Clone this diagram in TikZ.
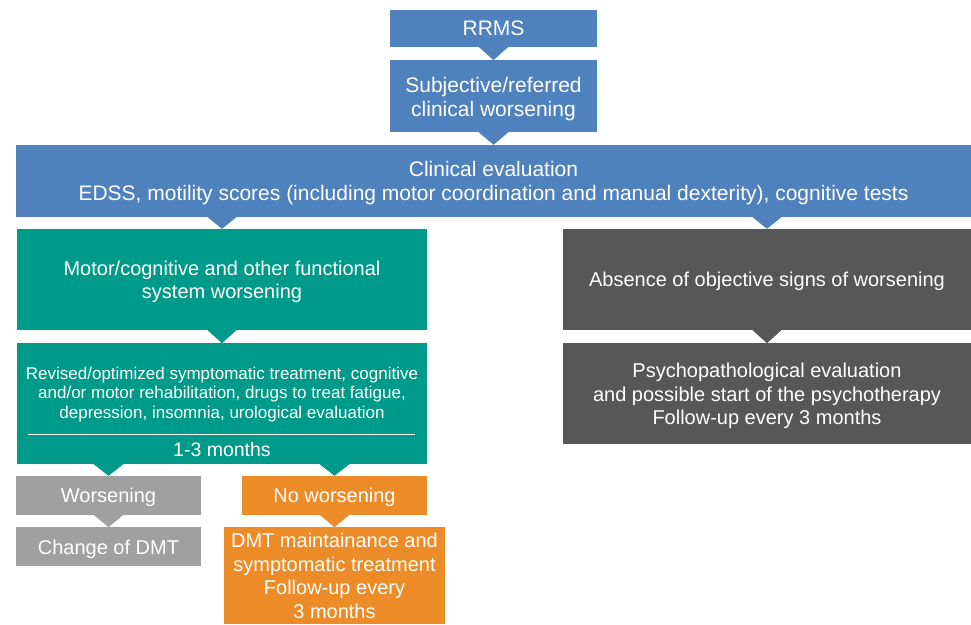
\documentclass[tikz,border=0pt]{standalone}
\usepackage{fontspec}
\setmainfont{Liberation Sans}
\usetikzlibrary{positioning,calc}
\definecolor{msblue}{RGB}{79,129,189}
\definecolor{msteal}{RGB}{0,154,138}
\definecolor{msdark}{RGB}{87,87,87}
\definecolor{msgray}{RGB}{160,160,160}
\definecolor{msorange}{RGB}{236,140,40}
\tikzset{
  box/.style={rectangle, fill=#1, text=white, align=center, inner sep=0pt,
    text depth=0pt, font=\fontsize{20}{23.5}\selectfont},
  plain text/.style={text=white, align=center, inner sep=0pt}
}
% triangle from the bottom of #2 pointing to the top of #3
\newcommand{\downtri}[3]{
  \fill[#1] ($(#2.south -| #3.north)+(-15,-0.5)$) -- ($(#2.south -| #3.north)+(15,-0.5)$) -- (#3.north) -- cycle;
}

\begin{document}
\begin{tikzpicture}[x=1pt, y=-1pt]
            \useasboundingbox (0,0) rectangle (971,624);
            \def\gap{13pt}
            \node (rrms) [box=msblue, minimum width=207pt, minimum height=37pt, font=\fontsize{21}{24}\selectfont] at (493.5,28.5) {RRMS};
            \node (subj) [box=msblue, minimum width=207pt, minimum height=72pt, font=\fontsize{21}{24}\selectfont, below=\gap of rrms] {Subjective/referred\\clinical worsening};
            \node (clin) [box=msblue, minimum width=955pt, minimum height=72pt, font=\fontsize{21}{23.5}\selectfont] at (493.5,181) {Clinical evaluation\\EDSS, motility scores (including motor coordination and manual dexterity), cognitive tests};

            % left branch
            \node (motor) [box=msteal, minimum width=410pt, minimum height=101pt] at (222,279.5) {Motor/cognitive and other functional\\system worsening};
            \node (rev) [box=msteal, minimum width=410pt, minimum height=121pt, below=\gap of motor] {};
            \node (revtxt) [plain text, font=\fontsize{17}{19.5}\selectfont] at (222,394.5) {Revised/optimized symptomatic treatment, cognitive\\and/or motor rehabilitation, drugs to treat fatigue,\\depression, insomnia, urological evaluation};
            \node (months) [plain text, font=\fontsize{19.5}{23}\selectfont] at (222,450) {1-3 months};
            \draw[white, line width=1pt] ($(rev.south west)+(11,-30)$) -- ($(rev.south east)+(-12,-30)$);

            \node (worse) [box=msgray, minimum width=185pt, minimum height=39pt] at (108.5,495.5) {Worsening};
            \node (change) [box=msgray, minimum width=185pt, minimum height=39pt, below=12pt of worse] {Change of DMT};
            \node (nowor) [box=msorange, minimum width=185pt, minimum height=39pt] at (334.5,495.5) {No worsening};
            \node (maint) [box=msorange, minimum width=221pt, minimum height=97pt, below=12pt of nowor] {DMT maintainance and\\symptomatic treatment\\Follow-up every\\3 months};

            % right branch
            \node (absence) [box=msdark, minimum width=408pt, minimum height=101pt] at (767,279.5) {Absence of objective signs of worsening};
            \node (psycho) [box=msdark, minimum width=408pt, minimum height=101pt, below=\gap of absence] {Psychopathological evaluation\\and possible start of the psychotherapy\\Follow-up every 3 months};

            \downtri{msblue}{rrms}{subj}
            \downtri{msblue}{subj}{clin}
            \downtri{msblue}{clin}{motor}
            \downtri{msblue}{clin}{absence}
            \downtri{msteal}{motor}{rev}
            \downtri{msteal}{rev}{worse}
            \downtri{msteal}{rev}{nowor}
            \downtri{msgray}{worse}{change}
            \downtri{msorange}{nowor}{maint}
            \downtri{msdark}{absence}{psycho}
        \end{tikzpicture}
\end{document}
